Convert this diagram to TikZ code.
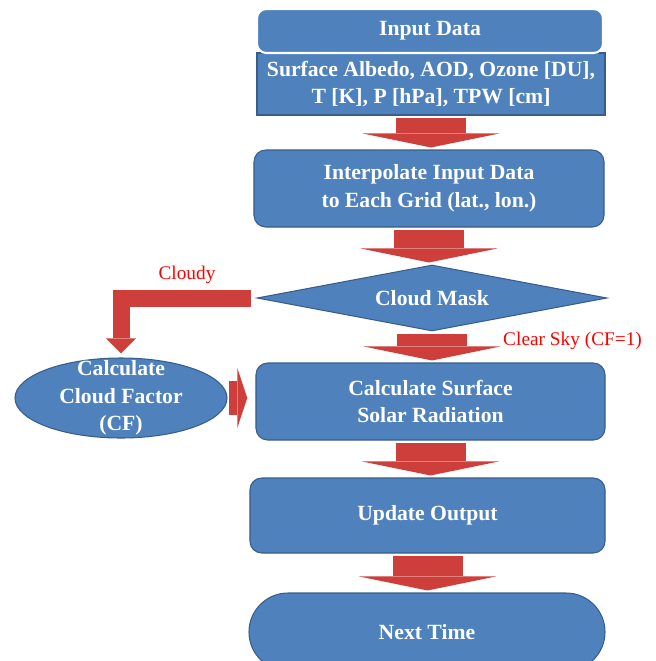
\documentclass[tikz,border=0pt]{standalone}
\usepackage{fontspec}
\setmainfont{Liberation Serif}
\usetikzlibrary{arrows.meta, positioning, shapes.geometric, shapes.misc}

\definecolor{boxblue}{RGB}{79,129,189}
\definecolor{boxedge}{RGB}{56,93,138}
\definecolor{arrowred}{RGB}{206,62,58}
\definecolor{notered}{RGB}{255,0,0}

\begin{document}
\begin{tikzpicture}[x=0.03cm, y=-0.03cm,
  box/.style={draw=boxedge, line width=0.9pt, fill=boxblue, text=white,
    font=\fontsize{18.5}{23.5}\selectfont\bfseries, align=center, inner sep=0pt},
  flowbox/.style={box, rounded corners=10pt, minimum width=10.5cm, minimum height=2.31cm},
  note/.style={text=notered, font=\fontsize{16.5}{19}\selectfont, inner sep=0pt},
  flowarrow/.style={arrowred, line width=2.1cm,
    -{Triangle[length=0.42cm, width=4.1cm, line width=0pt]},
    shorten <=2.5pt, shorten >=1.7pt},
  sidearrow/.style={arrowred, line width=0.51cm, line join=miter,
    -{Triangle[length=0.45cm, width=0.9cm, line width=0pt]}}
]
\useasboundingbox (0,0) rectangle (656,661);
\clip (0,0) rectangle (656,661);

% main column
\node[box, minimum width=10.44cm, minimum height=1.86cm] (data) at (431,84)
  {Surface Albedo, AOD, Ozone [DU],\\T [K], P [hPa], TPW [cm]};
\node[box, draw=white, line width=1.8pt, rounded corners=8pt,
  minimum width=10.38cm, minimum height=1.32cm] (input) at (430,31) {Input Data};
\node[flowbox] (interp) at (429,188.5) {Interpolate Input Data\\to Each Grid (lat., lon.)};
\node[box, diamond, aspect=5, minimum width=10.5cm, minimum height=1.98cm] (mask) at (432,298) {Cloud Mask};
\node[flowbox, minimum width=10.47cm] (calc) at (430.5,401.5) {Calculate Surface\\Solar Radiation};
\node[flowbox, minimum width=10.65cm, minimum height=2.25cm] (update) at (427.5,515.5) {Update Output};
\node[box, rounded rectangle, minimum width=10.68cm, minimum height=2.34cm] (next) at (427,632) {Next Time};

% cloudy branch
\node[box, ellipse, minimum width=6.36cm, minimum height=2.4cm] (cf) at (121,398) {};
\node[box, draw=none, fill=none] (cftext) at (cf.center) {Calculate\\Cloud Factor\\(CF)};

\node[note, anchor=base] (cloudy) at (187,279) {Cloudy};
\node[note, anchor=base west] (clear) at (503,345) {Clear Sky (CF=1)};

% arrows
\draw[flowarrow] (data.south) -- (data.south |- interp.north);
\draw[flowarrow] (interp.south) -- (interp.south |- mask.north);
\draw[flowarrow] (mask.south) -- (mask.south |- calc.north);
\draw[flowarrow] (calc.south) -- (calc.south |- update.north);
\draw[flowarrow] (update.south) -- (update.south |- next.north);
\draw[sidearrow, shorten <=5pt, shorten >=3.5pt] (mask.west) -| (cf.north);
\draw[sidearrow, line width=1.02cm, -{Triangle[length=0.3cm, width=1.8cm, line width=0pt]},
  shorten <=1pt, shorten >=7pt] (cf.east) -- (cf.east -| calc.west);
\end{tikzpicture}
\end{document}
